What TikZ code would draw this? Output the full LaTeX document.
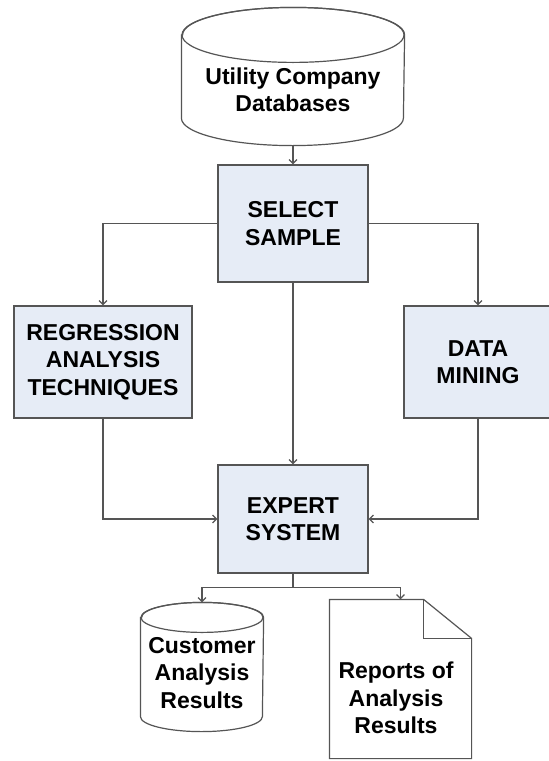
\documentclass[tikz,border=0pt]{standalone}
\usepackage{fontspec}
\setmainfont{Liberation Sans}
\usetikzlibrary{arrows.meta, calc}
\definecolor{boxfill}{RGB}{230,236,246}
\definecolor{edgegray}{RGB}{85,85,85}
% cylinder outline round an (empty) node: #1 node, #2 x radius, #3 y radius
\newcommand{\dbshape}[3]{%
  \draw[draw=edgegray, fill=white] ($(#1.north west)+(0,#3)$) -- ($(#1.south west)+(0,-#3)$)
      arc[start angle=180, end angle=0, x radius=#2, y radius=#3]
      -- ($(#1.north east)+(0,#3)$)
      arc[start angle=0, end angle=-180, x radius=#2, y radius=#3] -- cycle;
  \draw[edgegray] ($(#1.north)+(0,#3)$) ellipse[x radius=#2, y radius=#3];}

\begin{document}
\begin{tikzpicture}[x=1pt, y=-1pt, line width=1.2pt,
    every node/.style={font=\fontsize{23}{27.5}\selectfont\bfseries, align=center},
    procbox/.style={draw=edgegray, fill=boxfill, inner sep=0pt},
    outline/.style={inner sep=0pt},
    flow/.style={draw=edgegray, -{Straight Barb[length=4pt,width=8pt]}}]
    \useasboundingbox (0,0) rectangle (549,761);
    % data sources and processing
    \node[outline, minimum width=222pt, minimum height=137pt] (db) at (293,76.5) {};
    \dbshape{db}{111}{27.5}
    \node (dbtext) at (293,90) {Utility Company\\Databases};
    \node[procbox, minimum width=150pt, minimum height=117pt] (sel) at (293,223.5) {SELECT\\SAMPLE};
    \node[procbox, minimum width=178pt, minimum height=112pt] (reg) at (103,362) {REGRESSION\\ANALYSIS\\TECHNIQUES};
    \node[procbox, minimum width=148pt, minimum height=112pt] (dm) at (478,362) {DATA\\MINING};
    \node[procbox, minimum width=150pt, minimum height=108pt] (exp) at (293,519) {EXPERT\\SYSTEM};
    % outputs
    \node[outline, minimum width=122pt, minimum height=128pt] (cust) at (202,667) {};
    \dbshape{cust}{61}{15}
    \node (custtext) at (202,673) {Customer\\Analysis\\Results};
    \node[outline, minimum width=141pt, minimum height=158pt] (repdoc) at (400.5,679) {};
    \draw[draw=edgegray, fill=white] (repdoc.south west) -- (repdoc.north west)
        -- ($(repdoc.north east)+(-48,0)$) -- ($(repdoc.north east)+(0,39)$) -- (repdoc.south east) -- cycle;
    \draw[edgegray] ($(repdoc.north east)+(-48,0)$) |- ($(repdoc.north east)+(0,39)$);
    \node (rep) at (396,698) {Reports of\\Analysis\\Results};
    % connectors
    \draw[flow] (db.south) -- (sel.north);
    \draw[flow] (sel.west) -| (reg.north);
    \draw[flow] (sel.east) -| (dm.north);
    \draw[flow] (sel.south) -- (exp.north);
    \draw[flow] (reg.south) |- (exp.west);
    \draw[flow] (dm.south) |- (exp.east);
    \coordinate (fork) at ($(exp.south)+(0,14)$);
    \draw[edgegray] (exp.south) -- (fork);
    \draw[flow] (fork) -| (cust.north);
    \draw[flow] (fork) -| (repdoc.north);
\end{tikzpicture}
\end{document}
